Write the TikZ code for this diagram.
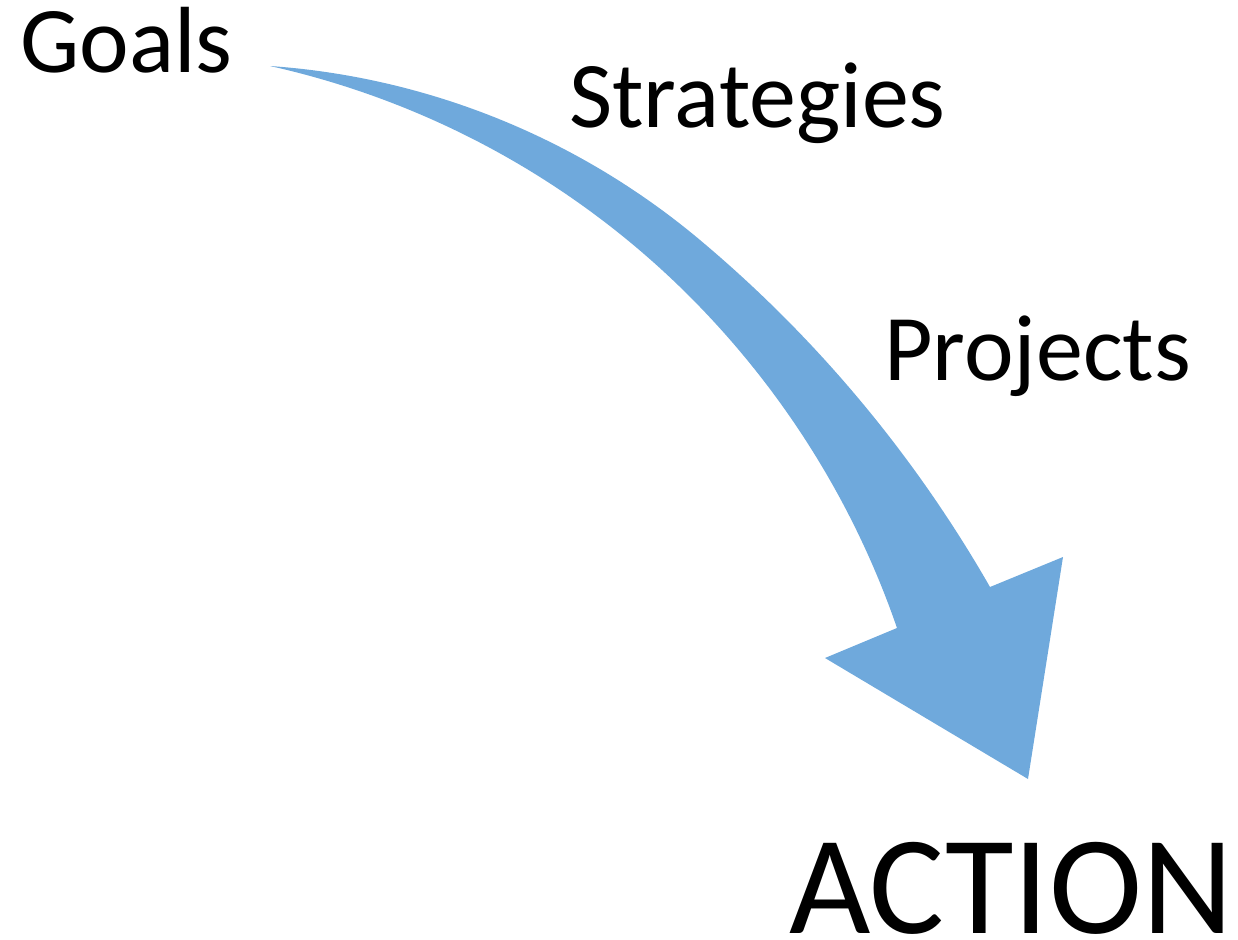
\documentclass[tikz,border=0pt]{standalone}
\usepackage{fontspec}
\setmainfont{Carlito}
\definecolor{flecha}{RGB}{111,169,220}

\begin{document}
\begin{tikzpicture}[x=0.02cm, y=-0.02cm,
    etiqueta/.style={anchor=base west, inner sep=0, font=\fontsize{53.5}{60}\selectfont}]

    \useasboundingbox (0,0) rectangle (1238,940);

    % Flecha curva (borde exterior, punta, borde interior)
    \fill[flecha] (270,66) .. controls (428.1,77.1) and (578.6,138.1) .. (700,240)
        .. controls (816.4,337.6) and (914.5,455.2) .. (990,587)
        -- (1063,557) -- (1028,779) -- (825,658) -- (897,628)
        .. controls (855.7,507.9) and (788.2,398.4) .. (700,307)
        .. controls (583.4,186.2) and (433.9,102.6) .. (270,66) -- cycle;

    % Etiquetas de los niveles
    \foreach \nombre/\x/\y/\texto in {goals/20/72/Goals, strategies/569/127/Strategies, projects/884/380/Projects} {
        \node[etiqueta] (\nombre) at (\x,\y) {\texto};
    }
    \node[etiqueta, font=\fontsize{80}{90}\selectfont] (action) at (789,933) {ACTION};
\end{tikzpicture}
\end{document}
